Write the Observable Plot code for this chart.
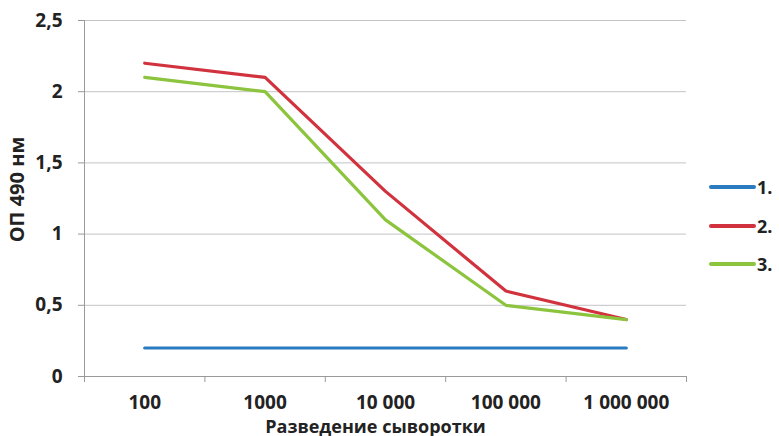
<!DOCTYPE html>
<html><head><meta charset="utf-8">
<script src="https://cdn.jsdelivr.net/npm/d3@7"></script>
<script src="https://cdn.jsdelivr.net/npm/@observablehq/plot@0.6"></script>
<style>
body{margin:0;background:#fff;font-family:"Open Sans",sans-serif}
#wrap{position:relative;width:779px;height:436px;overflow:hidden}
.leg{position:absolute;left:709px;display:flex;align-items:center;font-weight:bold;font-size:18px;color:#222}
.leg span.sw{display:inline-block;width:47px;height:4px;margin-right:1px;border-radius:2px}
</style></head><body><div id="wrap"></div>
<script>
const dilutions = ["100", "1000", "10 000", "100 000", "1 000 000"];
const series1 = [0.2, 0.2, 0.2, 0.2, 0.2];
const series2 = [2.2, 2.1, 1.3, 0.6, 0.4];
const series3 = [2.1, 2.0, 1.1, 0.5, 0.4];
const seriesNames = ["1.", "2.", "3."];
const seriesColors = ["#2a7bc0", "#d1323d", "#8cc43e"];
const yTicks = [0, 0.5, 1, 1.5, 2, 2.5];
const xLabel = "Разведение сыворотки";
const yLabel = "ОП 490 нм";

const allSeries = [series1, series2, series3];
const rows = [];
allSeries.forEach((s, k) => s.forEach((v, i) => rows.push({pos: i + 0.5, value: v, series: seriesNames[k]})));
const centers = dilutions.map((d, i) => i + 0.5);
const bounds = d3.range(dilutions.length + 1);

const chart = Plot.plot({
  width: 779, height: 436,
  marginLeft: 84, marginRight: 93, marginTop: 20, marginBottom: 60,
  style: {fontFamily: "'Open Sans', sans-serif", background: "#fff", color: "#222"},
  x: {domain: [0, dilutions.length]},
  y: {domain: [0, 2.5]},
  color: {domain: seriesNames, range: seriesColors},
  marks: [
    Plot.gridY(yTicks, {stroke: "#c4c4c8", strokeOpacity: 1, strokeWidth: 1}),
    Plot.ruleX([0], {stroke: "#9a9a9a"}),
    Plot.ruleY([0], {stroke: "#9a9a9a"}),
    Plot.axisY({ticks: yTicks, tickSize: 6, tickPadding: 16, stroke: "#9a9a9a",
      tickFormat: d => String(d).replace(".", ","), fontSize: 19, fontWeight: "bold", label: null}),
    Plot.axisX({ticks: bounds, tickSize: 6, tickFormat: () => "", stroke: "#9a9a9a", label: null}),
    Plot.axisX({ticks: centers, tickSize: 0, tickPadding: 19, tickFormat: d => dilutions[Math.floor(d)],
      fontSize: 19, fontWeight: "bold", label: null}),
    Plot.line(rows, {x: "pos", y: "value", z: "series", stroke: "series", strokeWidth: 3.2, strokeLinejoin: "miter"}),
    Plot.text([xLabel], {frameAnchor: "bottom", dx: -10, dy: 51, lineAnchor: "middle", fontSize: 18, fontWeight: "bold"}),
    Plot.text([yLabel], {frameAnchor: "left", rotate: -90, dx: -67, dy: -9, lineAnchor: "middle", textAnchor: "middle", fontSize: 20, fontWeight: "bold"})
  ]
});
const wrap = document.getElementById("wrap");
wrap.appendChild(chart);
const legTops = [187, 226, 264];
seriesNames.forEach((n, k) => {
  const d = document.createElement("div");
  d.className = "leg";
  d.style.top = (legTops[k] - 12) + "px";
  d.style.height = "24px";
  d.innerHTML = `<span class="sw" style="background:${seriesColors[k]}"></span><span>${n}</span>`;
  wrap.appendChild(d);
});
</script></body></html>
